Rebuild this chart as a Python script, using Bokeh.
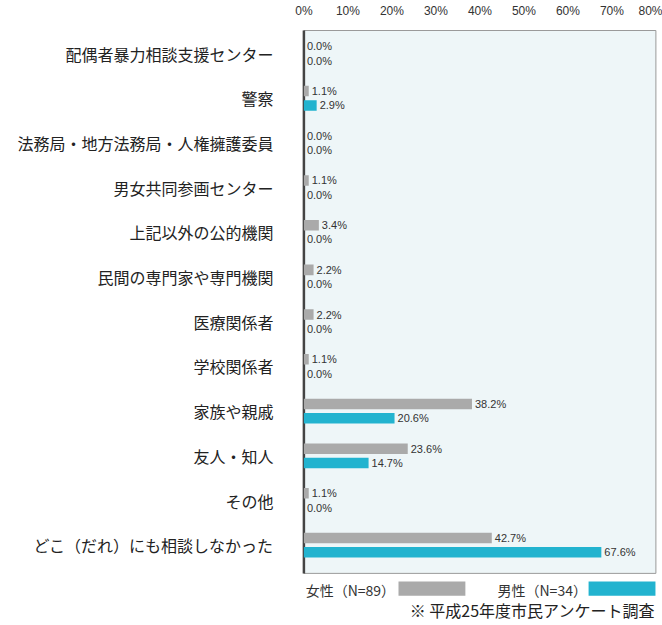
import numpy as np
from bokeh.plotting import figure
from bokeh.models import Range1d, FixedTicker, PrintfTickFormatter, ColumnDataSource, Label
from bokeh.core.properties import value
from bokeh.embed import file_html
from bokeh.resources import INLINE

categories = [
    "配偶者暴力相談支援センター",
    "警察",
    "法務局・地方法務局・人権擁護委員",
    "男女共同参画センター",
    "上記以外の公的機関",
    "民間の専門家や専門機関",
    "医療関係者",
    "学校関係者",
    "家族や親戚",
    "友人・知人",
    "その他",
    "どこ（だれ）にも相談しなかった",
]
female = [0.0, 1.1, 0.0, 1.1, 3.4, 2.2, 2.2, 1.1, 38.2, 23.6, 1.1, 42.7]
male = [0.0, 2.9, 0.0, 0.0, 0.0, 0.0, 0.0, 0.0, 20.6, 14.7, 0.0, 67.6]
x_ticks = [0, 10, 20, 30, 40, 50, 60, 70, 80]
female_name = "女性（N=89）"
male_name = "男性（N=34）"
note = "※ 平成25年度市民アンケート調査"

GRAY = "#aaaaaa"
TEAL = "#22b3cf"
JP = "Noto Sans CJK JP"

rows = np.arange(len(categories))
off = 0.16
src = ColumnDataSource(dict(
    yf=rows - off, ym=rows + off,
    female=female, male=male,
    flab=[f"{v:.1f}%" for v in female],
    mlab=[f"{v:.1f}%" for v in male],
))

p = figure(width=662, height=625,
           x_range=Range1d(-1, 81.5), y_range=Range1d(12.796, -0.56),
           x_axis_location="above", output_backend="svg", toolbar_location=None,
           min_border_left=299, min_border_right=0, min_border_top=28, min_border_bottom=0)
p.outline_line_color = None
p.grid.visible = False
p.background_fill_color = "white"
p.border_fill_color = "white"

xa = p.xaxis[0]
xa.ticker = FixedTicker(ticks=x_ticks)
xa.formatter = PrintfTickFormatter(format="%d%%")
xa.axis_line_color = None
xa.major_tick_line_color = None
xa.minor_tick_line_color = None
xa.major_label_text_font = "Liberation Sans"
xa.major_label_text_font_size = "12px"
xa.major_label_text_color = "#333333"
xa.major_label_standoff = 5

ya = p.yaxis[0]
ya.ticker = FixedTicker(ticks=list(rows))
ya.major_label_overrides = {int(i): c for i, c in zip(rows, categories)}
ya.axis_line_color = None
ya.major_tick_line_color = None
ya.minor_tick_line_color = None
ya.major_label_text_font = JP
ya.major_label_text_font_size = "16px"
ya.major_label_text_color = "#222222"
ya.major_label_standoff = 20

# chart box
box_top, box_bottom = -0.515, 11.63
p.quad(left=0, right=80, top=box_top, bottom=box_bottom,
       fill_color="#eef6f8", line_color="#9a9a9a", line_width=1)
p.segment(x0=0, y0=box_top, x1=0, y1=box_bottom, line_color="#444444", line_width=2.5)

p.hbar(y="yf", left=0, right="female", height=0.235, fill_color=GRAY, line_color=None, source=src)
p.hbar(y="ym", left=0, right="male", height=0.235, fill_color=TEAL, line_color=None, source=src)

p.text(x="female", y="yf", text="flab", source=src, x_offset=3,
       text_baseline="middle", text_font=value("Liberation Sans"),
       text_font_size="11px", text_color="#333333")
p.text(x="male", y="ym", text="mlab", source=src, x_offset=3,
       text_baseline="middle", text_font=value("Liberation Sans"),
       text_font_size="11px", text_color="#333333")

# legend row
p.add_layout(Label(x=0.4, y=12.0, text=female_name, text_font=JP, text_font_size="14px",
                   text_color="#333333", text_baseline="middle"))
p.quad(left=21.5, right=36.7, top=11.81, bottom=12.13, fill_color=GRAY, line_color=None)
p.add_layout(Label(x=44.0, y=12.0, text=male_name, text_font=JP, text_font_size="14px",
                   text_color="#333333", text_baseline="middle"))
p.quad(left=64.7, right=79.9, top=11.81, bottom=12.13, fill_color=TEAL, line_color=None)
p.add_layout(Label(x=79.8, y=12.45, text=note, text_font=JP, text_font_size="16px",
                   text_color="#222222", text_baseline="middle", text_align="right"))

open("out.html", "w").write(file_html(p, INLINE))
